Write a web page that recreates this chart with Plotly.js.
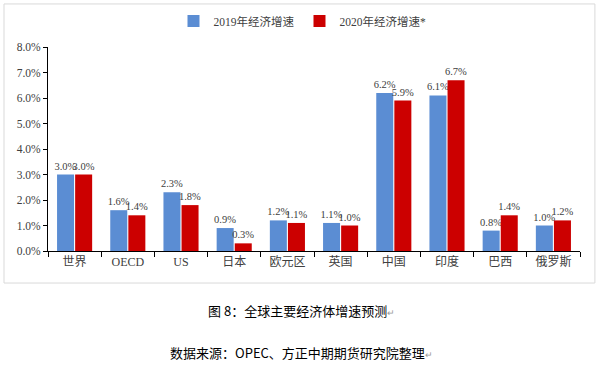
<!DOCTYPE html>
<html>
<head>
<meta charset="utf-8">
<script src="https://cdn.plot.ly/plotly-3.0.1.min.js"></script>
<style>html,body{margin:0;padding:0;background:#fff;}#chart{width:599px;height:370px;}</style>
</head>
<body>
<div id="chart"></div>
<script>
var categories = ["世界", "OECD", "US", "日本", "欧元区", "英国", "中国", "印度", "巴西", "俄罗斯"];
var growth2019 = [0.030, 0.016, 0.023, 0.009, 0.012, 0.011, 0.062, 0.061, 0.008, 0.010];
var growth2020 = [0.030, 0.014, 0.018, 0.003, 0.011, 0.010, 0.059, 0.067, 0.014, 0.012];
var seriesNames = ["2019年经济增速", "2020年经济增速*"];
var captionTitle = "图 8：全球主要经济体增速预测";
var captionSource = "数据来源：OPEC、方正中期期货研究院整理";

var serif = "'Liberation Serif', 'Times New Roman', 'Noto Sans CJK SC', serif";
var sans = "'Noto Sans CJK SC', 'Noto Sans', sans-serif";

var traces = [
  {
    type: "bar", name: seriesNames[0], x: categories, y: growth2019,
    marker: {color: "#5b8dd3"},
    texttemplate: "%{y:.1%}", textposition: "outside", cliponaxis: false,
    constraintext: "none",
    textfont: {family: serif, size: 10.5, color: "#404040"},
    hoverinfo: "x+y"
  },
  {
    type: "bar", name: seriesNames[1], x: categories, y: growth2020,
    marker: {color: "#cc0000"},
    texttemplate: "%{y:.1%}", textposition: "outside", cliponaxis: false,
    constraintext: "none",
    textfont: {family: serif, size: 10.5, color: "#404040"},
    hoverinfo: "x+y"
  }
];

var arrow = '<span style="color:#9a9a9a;font-size:9px">↵</span>';

var layout = {
  width: 599, height: 370,
  margin: {l: 48, r: 19, t: 47, b: 119, autoexpand: false},
  paper_bgcolor: "#ffffff", plot_bgcolor: "#ffffff",
  barmode: "group", bargap: 0.32, bargroupgap: 0.06,
  font: {family: serif, color: "#404040"},
  showlegend: true,
  legend: {
    orientation: "h", xref: "container", yref: "container",
    x: 0.505, xanchor: "center", y: 1 - 21 / 370, yanchor: "middle",
    font: {family: serif, size: 11.5, color: "#404040"},
    itemwidth: 30, bgcolor: "rgba(0,0,0,0)"
  },
  xaxis: {
    type: "category", showline: true, linecolor: "#000", linewidth: 1,
    ticks: "outside", tickson: "boundaries", ticklen: 5, tickcolor: "#000",
    tickfont: {family: serif, size: 12, color: "#404040"},
    showgrid: false, zeroline: false, fixedrange: true
  },
  yaxis: {
    range: [0, 0.08], dtick: 0.01, tickformat: ".1%",
    showline: true, linecolor: "#000", linewidth: 1,
    ticks: "outside", ticklen: 4, tickcolor: "#000",
    tickfont: {family: serif, size: 11.5, color: "#404040"},
    showgrid: false, zeroline: false, fixedrange: true
  },
  shapes: [
    {type: "rect", xref: "paper", yref: "paper",
     x0: -0.0827, x1: 1.028, y0: -0.157, y1: 1.211,
     line: {color: "#d9d9d9", width: 1}, fillcolor: "rgba(0,0,0,0)", layer: "below"}
  ],
  annotations: [
    {xref: "paper", yref: "paper", x: 0.477, y: (251 - 310) / 204,
     text: captionTitle + arrow, showarrow: false, xanchor: "center", yanchor: "middle",
     font: {family: sans, size: 13, color: "#000"}},
    {xref: "paper", yref: "paper", x: 0.477, y: (251 - 352) / 204,
     text: captionSource + arrow, showarrow: false, xanchor: "center", yanchor: "middle",
     font: {family: sans, size: 13, color: "#000"}}
  ]
};

Plotly.newPlot("chart", traces, layout, {displayModeBar: false, staticPlot: true});
</script>
</body>
</html>
